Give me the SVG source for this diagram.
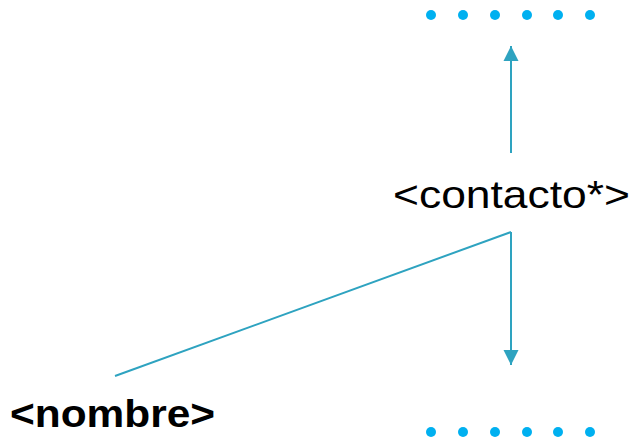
<svg xmlns="http://www.w3.org/2000/svg" width="634" height="441" viewBox="0 0 634 441">
<style>
.dot{fill:#00b0f0}
.ln{stroke:#2ea3c0;stroke-width:2;fill:none}
.lbl{font-family:"Liberation Sans",Arial,sans-serif;fill:#000}
</style>
<defs>
<marker id="ah" viewBox="0 0 16 16" refX="15" refY="8" markerWidth="16" markerHeight="16" markerUnits="userSpaceOnUse" orient="auto">
<path d="M0,0.5 L15,8 L0,15.5 z" fill="#2ea3c0"/>
</marker>
</defs>
<rect width="634" height="441" fill="#fff"/>
<g id="connectors">
<line class="ln" x1="511" y1="153" x2="511" y2="46" marker-end="url(#ah)"/>
<line class="ln" x1="511" y1="232" x2="511" y2="365" marker-end="url(#ah)"/>
<line class="ln" x1="511" y1="232" x2="115" y2="376"/>
</g>
<g id="top-dots">
<circle class="dot" cx="431" cy="15" r="5"/>
<circle class="dot" cx="463" cy="15" r="5"/>
<circle class="dot" cx="495" cy="15" r="5"/>
<circle class="dot" cx="527" cy="15" r="5"/>
<circle class="dot" cx="558" cy="15" r="5"/>
<circle class="dot" cx="590" cy="15" r="5"/>
</g>
<g id="contacto">
<text class="lbl" x="393" y="208" font-size="39" textLength="237" lengthAdjust="spacingAndGlyphs">&lt;contacto*&gt;</text>
</g>
<g id="nombre">
<text class="lbl" x="10" y="427" font-size="38" font-weight="bold" textLength="205" lengthAdjust="spacingAndGlyphs">&lt;nombre&gt;</text>
</g>
<g id="bottom-dots">
<circle class="dot" cx="431" cy="432" r="5"/>
<circle class="dot" cx="463" cy="432" r="5"/>
<circle class="dot" cx="495" cy="432" r="5"/>
<circle class="dot" cx="527" cy="432" r="5"/>
<circle class="dot" cx="558" cy="432" r="5"/>
<circle class="dot" cx="590" cy="432" r="5"/>
</g>
</svg>
